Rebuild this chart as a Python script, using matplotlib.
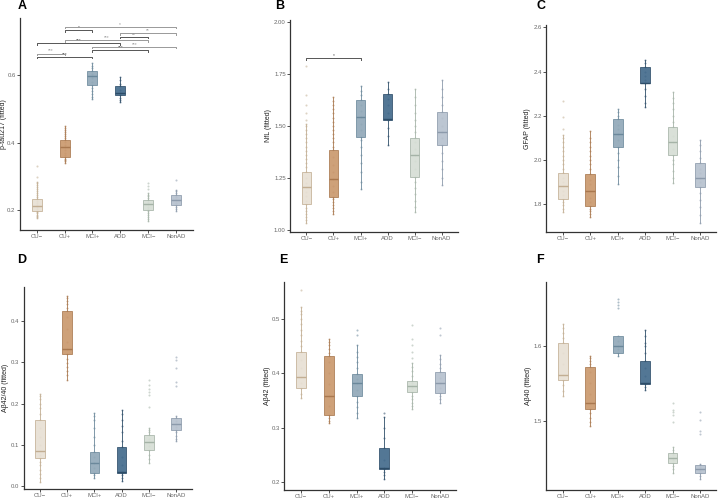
import matplotlib
matplotlib.use('Agg')
from matplotlib import pyplot as plt

plt.rcParams['font.family'] = ['Liberation Sans', 'DejaVu Sans']

groups = ['CU\u2212', 'CU+', 'MCI+', 'ADD', 'MCI\u2212', 'NonAD']
fills = ['#e7dfd3', '#c9976b', '#8fa7b7', '#40688a', '#d5ddd4', '#b5c0cd']
edges = ['#c2ae93', '#a9784f', '#6b889b', '#2d4d68', '#a5b3a7', '#8c9aab']

# ---- p-tau217 ----
ptau_q1 = [0.198, 0.357, 0.570, 0.541, 0.199, 0.215]
ptau_med = [0.212, 0.386, 0.597, 0.548, 0.217, 0.231]
ptau_q3 = [0.234, 0.407, 0.612, 0.567, 0.231, 0.244]
ptau_lo = [0.175, 0.340, 0.528, 0.519, 0.167, 0.196]
ptau_hi = [0.284, 0.449, 0.635, 0.593, 0.250, 0.260]
ptau_pts = [
    [0.175, 0.178, 0.182, 0.186, 0.19, 0.194, 0.198, 0.203, 0.208, 0.212, 0.216, 0.221, 0.226, 0.232,
     0.238, 0.244, 0.25, 0.256, 0.262, 0.268, 0.274, 0.279, 0.284, 0.299, 0.331],
    [0.340, 0.344, 0.348, 0.352, 0.357, 0.363, 0.37, 0.377, 0.386, 0.394, 0.401, 0.407, 0.413, 0.419,
     0.425, 0.431, 0.437, 0.443, 0.449],
    [0.528, 0.536, 0.545, 0.553, 0.561, 0.57, 0.58, 0.59, 0.597, 0.604, 0.612, 0.62, 0.628, 0.635],
    [0.519, 0.526, 0.533, 0.541, 0.548, 0.556, 0.567, 0.575, 0.584, 0.593],
    [0.167, 0.172, 0.178, 0.184, 0.19, 0.196, 0.203, 0.21, 0.217, 0.224, 0.231, 0.236, 0.241, 0.246,
     0.25, 0.262, 0.27, 0.28],
    [0.196, 0.202, 0.208, 0.215, 0.222, 0.231, 0.238, 0.244, 0.25, 0.255, 0.26, 0.288],
]
# significance comparisons (bottom to top)
ptau_comp = [(0, 2, '***'), (0, 1, '***'), (2, 4, '***'), (2, 5, '***'), (0, 3, '***'),
             (1, 4, '***'), (3, 4, '**'), (3, 5, '**'), (1, 2, '*'), (1, 5, '*')]

# ---- NfL ----
nfl_q1 = [1.122, 1.157, 1.446, 1.530, 1.254, 1.406]
nfl_med = [1.205, 1.246, 1.543, 1.532, 1.358, 1.470]
nfl_q3 = [1.278, 1.382, 1.626, 1.655, 1.443, 1.567]
nfl_lo = [1.032, 1.077, 1.194, 1.406, 1.085, 1.213]
nfl_hi = [1.510, 1.640, 1.690, 1.711, 1.679, 1.719]
nfl_pts = [
    [1.032, 1.045, 1.06, 1.075, 1.09, 1.105, 1.122, 1.14, 1.16, 1.18, 1.205, 1.225, 1.25, 1.278, 1.30,
     1.32, 1.34, 1.36, 1.38, 1.40, 1.42, 1.44, 1.46, 1.48, 1.50, 1.51, 1.53, 1.56, 1.60, 1.65, 1.79],
    [1.077, 1.09, 1.105, 1.12, 1.135, 1.15, 1.157, 1.18, 1.21, 1.246, 1.28, 1.31, 1.35, 1.382, 1.40,
     1.42, 1.44, 1.46, 1.48, 1.50, 1.52, 1.54, 1.56, 1.58, 1.60, 1.62, 1.64],
    [1.194, 1.23, 1.28, 1.32, 1.36, 1.40, 1.43, 1.446, 1.48, 1.51, 1.543, 1.57, 1.60, 1.626, 1.65,
     1.67, 1.69],
    [1.406, 1.45, 1.49, 1.53, 1.56, 1.60, 1.63, 1.655, 1.68, 1.711],
    [1.085, 1.11, 1.14, 1.17, 1.20, 1.23, 1.254, 1.29, 1.33, 1.358, 1.39, 1.42, 1.443, 1.47, 1.50,
     1.53, 1.56, 1.60, 1.64, 1.679],
    [1.213, 1.25, 1.29, 1.33, 1.37, 1.406, 1.44, 1.47, 1.50, 1.54, 1.567, 1.60, 1.64, 1.68, 1.719],
]
nfl_comp = [(0, 2, '*')]

# ---- GFAP ----
gfap_q1 = [1.823, 1.792, 2.058, 2.347, 2.021, 1.877]
gfap_med = [1.883, 1.860, 2.116, 2.350, 2.080, 1.918]
gfap_q3 = [1.940, 1.937, 2.184, 2.422, 2.148, 1.985]
gfap_lo = [1.767, 1.744, 1.890, 2.238, 1.898, 1.717]
gfap_hi = [2.113, 2.131, 2.229, 2.452, 2.309, 2.091]
gfap_pts = [
    [1.767, 1.78, 1.795, 1.81, 1.823, 1.84, 1.86, 1.883, 1.90, 1.92, 1.94, 1.96, 1.98, 2.0, 2.02,
     2.04, 2.06, 2.08, 2.1, 2.113, 2.139, 2.196, 2.267],
    [1.744, 1.755, 1.768, 1.78, 1.792, 1.81, 1.83, 1.86, 1.89, 1.91, 1.937, 1.96, 1.98, 2.0, 2.02,
     2.04, 2.06, 2.08, 2.1, 2.131],
    [1.89, 1.93, 1.97, 2.0, 2.03, 2.058, 2.09, 2.116, 2.14, 2.16, 2.184, 2.2, 2.215, 2.229],
    [2.238, 2.26, 2.29, 2.32, 2.347, 2.36, 2.38, 2.40, 2.422, 2.44, 2.452],
    [1.898, 1.92, 1.95, 1.98, 2.0, 2.021, 2.05, 2.08, 2.11, 2.148, 2.17, 2.2, 2.23, 2.26, 2.28, 2.309],
    [1.717, 1.75, 1.79, 1.82, 1.85, 1.877, 1.9, 1.918, 1.94, 1.96, 1.985, 2.01, 2.04, 2.07, 2.091],
]

# ---- Ab42/40 ----
ratio_q1 = [0.067, 0.319, 0.032, 0.032, 0.087, 0.135]
ratio_med = [0.085, 0.331, 0.056, 0.035, 0.106, 0.150]
ratio_q3 = [0.161, 0.424, 0.083, 0.095, 0.123, 0.164]
ratio_lo = [0.010, 0.258, 0.020, 0.013, 0.055, 0.109]
ratio_hi = [0.224, 0.460, 0.177, 0.184, 0.140, 0.170]
ratio_pts = [
    [0.01, 0.02, 0.03, 0.04, 0.05, 0.058, 0.067, 0.075, 0.085, 0.1, 0.12, 0.14, 0.161, 0.175, 0.19,
     0.2, 0.21, 0.218, 0.224],
    [0.258, 0.268, 0.278, 0.288, 0.298, 0.308, 0.319, 0.331, 0.35, 0.38, 0.41, 0.424, 0.432, 0.44,
     0.448, 0.455, 0.46],
    [0.02, 0.026, 0.032, 0.045, 0.056, 0.07, 0.083, 0.1, 0.12, 0.14, 0.16, 0.17, 0.177],
    [0.013, 0.02, 0.027, 0.032, 0.035, 0.05, 0.07, 0.095, 0.11, 0.13, 0.145, 0.16, 0.175, 0.184],
    [0.055, 0.065, 0.075, 0.087, 0.096, 0.106, 0.115, 0.123, 0.13, 0.135, 0.14, 0.192, 0.22, 0.228,
     0.236, 0.244, 0.258],
    [0.109, 0.115, 0.122, 0.13, 0.135, 0.142, 0.15, 0.157, 0.164, 0.17, 0.242, 0.253, 0.286, 0.305,
     0.313],
]

# ---- Ab42 ----
ab42_q1 = [0.373, 0.323, 0.358, 0.224, 0.366, 0.364]
ab42_med = [0.393, 0.359, 0.383, 0.226, 0.377, 0.383]
ab42_q3 = [0.439, 0.431, 0.398, 0.263, 0.386, 0.402]
ab42_lo = [0.355, 0.308, 0.317, 0.205, 0.334, 0.346]
ab42_hi = [0.522, 0.463, 0.452, 0.319, 0.419, 0.433]
ab42_pts = [
    [0.355, 0.362, 0.373, 0.383, 0.393, 0.41, 0.425, 0.439, 0.45, 0.46, 0.47, 0.48, 0.49, 0.5, 0.51,
     0.515, 0.522, 0.553],
    [0.308, 0.312, 0.318, 0.323, 0.34, 0.359, 0.38, 0.4, 0.42, 0.431, 0.438, 0.445, 0.452, 0.458,
     0.463],
    [0.317, 0.327, 0.337, 0.348, 0.358, 0.37, 0.383, 0.39, 0.398, 0.41, 0.42, 0.43, 0.44, 0.452,
     0.47, 0.48],
    [0.205, 0.212, 0.218, 0.224, 0.226, 0.24, 0.263, 0.28, 0.3, 0.319, 0.327],
    [0.334, 0.34, 0.346, 0.352, 0.358, 0.366, 0.372, 0.377, 0.382, 0.386, 0.395, 0.405, 0.412, 0.419,
     0.428, 0.44, 0.452, 0.464, 0.489],
    [0.346, 0.352, 0.358, 0.364, 0.373, 0.383, 0.392, 0.402, 0.41, 0.418, 0.426, 0.433, 0.471, 0.483],
]

# ---- Ab40 ----
ab40_q1 = [1.554, 1.516, 1.590, 1.549, 1.444, 1.430]
ab40_med = [1.561, 1.523, 1.600, 1.550, 1.451, 1.436]
ab40_q3 = [1.603, 1.572, 1.612, 1.580, 1.457, 1.441]
ab40_lo = [1.533, 1.493, 1.586, 1.541, 1.431, 1.422]
ab40_hi = [1.628, 1.586, 1.612, 1.620, 1.465, 1.443]
ab40_pts = [
    [1.533, 1.54, 1.547, 1.554, 1.561, 1.575, 1.59, 1.603, 1.61, 1.617, 1.623, 1.628],
    [1.493, 1.498, 1.504, 1.51, 1.516, 1.523, 1.535, 1.55, 1.565, 1.572, 1.576, 1.58, 1.583, 1.586],
    [1.586, 1.59, 1.595, 1.6, 1.606, 1.612, 1.65, 1.654, 1.658, 1.662],
    [1.541, 1.545, 1.549, 1.56, 1.57, 1.58, 1.59, 1.6, 1.604, 1.612, 1.62],
    [1.431, 1.436, 1.44, 1.444, 1.448, 1.451, 1.454, 1.457, 1.461, 1.465, 1.498, 1.508, 1.511,
     1.514, 1.523],
    [1.422, 1.426, 1.43, 1.433, 1.436, 1.439, 1.441, 1.443, 1.483, 1.487, 1.501, 1.512],
]


def draw_panel(rect, letter, letter_xy, ylabel, label_x, ylim, yticks, ylabels,
               q1, med, q3, lo, hi, pts, comps=None, comp_y0=None, comp_step=None):
    ax = fig.add_axes(rect)
    x = list(range(1, len(groups) + 1))
    for i, p in enumerate(pts):
        ax.scatter([x[i]] * len(p), p, s=2.2, color=edges[i], alpha=0.55, lw=0, zorder=1)
    stats = [dict(q1=q1[i], med=med[i], q3=q3[i], whislo=lo[i], whishi=hi[i], fliers=[])
             for i in range(len(groups))]
    bp = ax.bxp(stats, positions=x, widths=0.36, patch_artist=True, showcaps=False,
                showfliers=False, manage_ticks=False)
    for i in range(len(groups)):
        bp['boxes'][i].set(facecolor=fills[i], edgecolor=edges[i], linewidth=0.6, alpha=0.9,
                           zorder=2)
        bp['medians'][i].set(color=edges[i], linewidth=1.0, zorder=3)
        for w in bp['whiskers'][2 * i:2 * i + 2]:
            w.set(color=edges[i], linewidth=0.6, zorder=1.5)
    if comps:
        for k, (a, b, lab) in enumerate(comps):
            yy = comp_y0 + k * comp_step
            col = '#555555' if k % 2 == 0 else '#999999'
            tick = comp_step * 0.45
            ax.plot([x[a], x[a], x[b], x[b]], [yy - tick, yy, yy, yy - tick], color=col, lw=0.7,
                    zorder=4)
            ax.text((x[a] + x[b]) / 2, yy, lab, ha='center', va='bottom', fontsize=3.5,
                    color=col)
    ax.set_xlim(0.4, 6.6)
    ax.set_ylim(*ylim)
    ax.set_xticks(x)
    ax.set_xticklabels(groups)
    ax.set_yticks(yticks)
    ax.set_yticklabels(ylabels)
    ax.tick_params(labelsize=4.3, colors='#333333', labelcolor='#666666', length=2, width=0.6,
                   pad=1.2)
    for s in ['top', 'right']:
        ax.spines[s].set_visible(False)
    for s in ['left', 'bottom']:
        ax.spines[s].set_color('#333333')
        ax.spines[s].set_linewidth(0.9)
    ax.set_ylabel(ylabel, fontsize=5.0, color='#222222')
    ax.yaxis.set_label_coords(label_x, 0.5)
    ax.set_facecolor('none')
    fig.text(letter_xy[0], letter_xy[1], letter, fontsize=9, fontweight='bold', ha='left',
             va='center')
    return ax


fig = plt.figure(figsize=(7.2, 5.01), dpi=100)

draw_panel([0.0278, 0.541, 0.240, 0.423], 'A', (0.024, 0.988), 'p-tau217 (fitted)', -0.074,
           (0.141, 0.769), [0.2, 0.4, 0.6], ['0.2', '0.4', '0.6'],
           ptau_q1, ptau_med, ptau_q3, ptau_lo, ptau_hi, ptau_pts,
           ptau_comp, 0.654, 0.0099)
draw_panel([0.403, 0.5375, 0.233, 0.4225], 'B', (0.382, 0.988), 'NfL (fitted)', -0.107,
           (0.99, 2.01), [1.0, 1.25, 1.5, 1.75, 2.0], ['1.00', '1.25', '1.50', '1.75', '2.00'],
           nfl_q1, nfl_med, nfl_q3, nfl_lo, nfl_hi, nfl_pts,
           nfl_comp, 1.828, 0.02)
draw_panel([0.759, 0.537, 0.236, 0.413], 'C', (0.745, 0.988), 'GFAP (fitted)', -0.092,
           (1.675, 2.61), [1.8, 2.0, 2.2, 2.4, 2.6], ['1.8', '2.0', '2.2', '2.4', '2.6'],
           gfap_q1, gfap_med, gfap_q3, gfap_lo, gfap_hi, gfap_pts)
draw_panel([0.033, 0.024, 0.234, 0.403], 'D', (0.024, 0.481), 'A\u03b242/40 (fitted)', -0.09,
           (-0.007, 0.482), [0.0, 0.1, 0.2, 0.3, 0.4], ['0.0', '0.1', '0.2', '0.3', '0.4'],
           ratio_q1, ratio_med, ratio_q3, ratio_lo, ratio_hi, ratio_pts)
draw_panel([0.395, 0.022, 0.239, 0.416], 'E', (0.388, 0.481), 'A\u03b242 (fitted)', -0.077,
           (0.185, 0.569), [0.2, 0.3, 0.4, 0.5], ['0.2', '0.3', '0.4', '0.5'],
           ab42_q1, ab42_med, ab42_q3, ab42_lo, ab42_hi, ab42_pts)
draw_panel([0.759, 0.022, 0.236, 0.416], 'F', (0.745, 0.481), 'A\u03b240 (fitted)', -0.086,
           (1.408, 1.685), [1.5, 1.6], ['1.5', '1.6'],
           ab40_q1, ab40_med, ab40_q3, ab40_lo, ab40_hi, ab40_pts)

plt.savefig('out.png', dpi=100)
